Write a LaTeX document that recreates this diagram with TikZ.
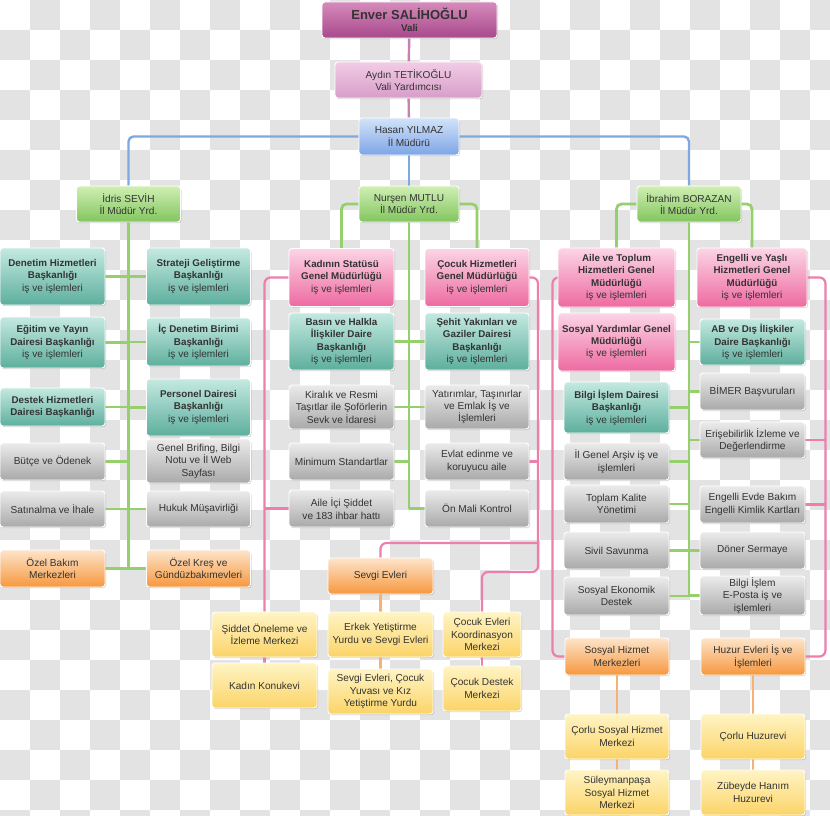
\documentclass[tikz,border=0pt]{standalone}
\usepackage{fontspec}
\setmainfont{Liberation Sans}
\usetikzlibrary{shadows}
\pgfdeclarelayer{checker}
\pgfdeclarelayer{wires}
\pgfsetlayers{checker,wires,main}
\definecolor{txtc}{HTML}{333333}
\definecolor{chk}{HTML}{E3E3E3}
\definecolor{valitop}{HTML}{D68BBB}
\definecolor{valibot}{HTML}{A8488C}
\definecolor{yrdtop}{HTML}{F2CCE6}
\definecolor{yrdbot}{HTML}{D79DC8}
\definecolor{bluetop}{HTML}{D2E3F9}
\definecolor{bluebot}{HTML}{7EA5E6}
\definecolor{greentop}{HTML}{D0EFB4}
\definecolor{greenbot}{HTML}{82C55E}
\definecolor{tealtop}{HTML}{C4E9E0}
\definecolor{tealbot}{HTML}{5DAF9D}
\definecolor{pinktop}{HTML}{FBD5E5}
\definecolor{pinkbot}{HTML}{EE6AA1}
\definecolor{graytop}{HTML}{EBEBEB}
\definecolor{graybot}{HTML}{A9A9A9}
\definecolor{orgtop}{HTML}{FDE4CA}
\definecolor{orgbot}{HTML}{F7983E}
\definecolor{yeltop}{HTML}{FFF4C4}
\definecolor{yelbot}{HTML}{FBD468}
\definecolor{lblue}{HTML}{7DA8E2}
\definecolor{lgreen}{HTML}{96D06E}
\definecolor{lpink}{HTML}{EC7FAC}
\definecolor{lorange}{HTML}{F5B274}
\definecolor{lpurple}{HTML}{C87FB2}
\newcommand{\bb}[1]{{\fontsize{9.8}{12.4}\selectfont\textbf{#1}}}% bold line in a box

\begin{document}
\begin{tikzpicture}[x=1pt, y=-1pt, line cap=round,
  box/.style={rounded corners=3pt, draw=white, line width=0.9pt, align=center,
    inner sep=1pt, text=txtc, font=\fontsize{10.1}{12.4}\selectfont,
    drop shadow={opacity=0.3, shadow xshift=1pt, shadow yshift=-1.2pt}},
  sz/.style 2 args={minimum width=#1pt, minimum height=#2pt},
  valibox/.style={box, top color=valitop, bottom color=valibot},
  yrdbox/.style={box, top color=yrdtop, bottom color=yrdbot},
  bluebox/.style={box, top color=bluetop, bottom color=bluebot},
  greenbox/.style={box, top color=greentop, bottom color=greenbot},
  tealbox/.style={box, top color=tealtop, bottom color=tealbot},
  pinkbox/.style={box, top color=pinktop, bottom color=pinkbot},
  graybox/.style={box, top color=graytop, bottom color=graybot},
  orgbox/.style={box, top color=orgtop, bottom color=orgbot},
  yelbox/.style={box, top color=yeltop, bottom color=yelbot},
  bline/.style={draw=lblue, line width=2.4pt, rounded corners=5pt},
  gline/.style={draw=lgreen, line width=2.8pt, rounded corners=5pt},
  pline/.style={draw=lpink, line width=2.2pt, rounded corners=6pt},
  oline/.style={draw=lorange, line width=2.6pt},
  vline/.style={draw=lpurple, line width=2.4pt}]
\useasboundingbox (0,0) rectangle (830,816);

% checker background
\begin{pgfonlayer}{checker}
\fill[white] (0,0) rectangle (830,816);
\begin{scope}
\clip (0,0) rectangle (830,816);
\foreach \i in {0,60,...,810}
  \foreach \j in {30,90,...,810}
    \fill[chk] (\i,\j) rectangle ++(30,30);
\foreach \i in {30,90,...,810}
  \foreach \j in {0,60,...,780}
    \fill[chk] (\i,\j) rectangle ++(30,30);
\end{scope}
\end{pgfonlayer}

% top
\node[valibox, sz={175}{36}] (vali) at (409.5,20) {\textbf{\fontsize{13}{15}\selectfont Enver SALİHOĞLU}\\\bb{Vali}};
\node[yrdbox, sz={147}{36}] (aydin) at (408.5,80) {Aydın TETİKOĞLU\\Vali Yardımcısı};
\node[bluebox, sz={100}{37}] (hasan) at (409,136.5) {Hasan YILMAZ\\İl Müdürü};
\node[greenbox, sz={104}{36}] (idris) at (128.5,204) {İdris SEVİH\\İl Müdür Yrd.};
\node[greenbox, sz={100}{36}] (nursen) at (409,204) {Nurşen MUTLU\\İl Müdür Yrd.};
\node[greenbox, sz={104}{36}] (ibrahim) at (689,204) {İbrahim BORAZAN\\İl Müdür Yrd.};

% left branch
\node[tealbox, sz={105}{57}] (denetim) at (52.5,276.5) {\bb{Denetim Hizmetleri}\\\bb{Başkanlığı}\\iş ve işlemleri};
\node[tealbox, sz={104}{57}] (strateji) at (198.5,276.5) {\bb{Strateji Geliştirme}\\\bb{Başkanlığı}\\iş ve işlemleri};
\node[tealbox, sz={105}{51}] (egitim) at (52.5,342.5) {\bb{Eğitim ve Yayın}\\\bb{Dairesi Başkanlığı}\\iş ve işlemleri};
\node[tealbox, sz={104}{48}] (icdenetim) at (198.5,342) {\bb{İç Denetim Birimi}\\\bb{Başkanlığı}\\iş ve işlemleri};
\node[tealbox, sz={105}{38}] (destek) at (52.5,407) {\bb{Destek Hizmetleri}\\\bb{Dairesi Başkanlığı}};
\node[tealbox, sz={104}{57}] (personel) at (198.5,407.5) {\bb{Personel Dairesi}\\\bb{Başkanlığı}\\iş ve işlemleri};
\node[graybox, sz={105}{37}] (butce) at (52.5,461.5) {Bütçe ve Ödenek};
\node[graybox, sz={104}{44}] (brifing) at (198.5,461) {Genel Brifing, Bilgi\\Notu ve İl Web\\Sayfası};
\node[graybox, sz={105}{36}] (satin) at (52.5,509) {Satınalma ve İhale};
\node[graybox, sz={104}{36}] (hukuk) at (198.5,509) {Hukuk Müşavirliği};
\node[orgbox, sz={105}{37}] (ozelbakim) at (52.5,568.5) {Özel Bakım\\Merkezleri};
\node[orgbox, sz={104}{37}] (ozelkres) at (198.5,568.5) {Özel Kreş ve\\Gündüzbakımevleri};

% middle branch
\node[pinkbox, sz={105}{58}] (kadin) at (341.5,277.5) {\bb{Kadının Statüsü}\\\bb{Genel Müdürlüğü}\\iş ve işlemleri};
\node[pinkbox, sz={104}{58}] (cocuk) at (477,277.5) {\bb{Çocuk Hizmetleri}\\\bb{Genel Müdürlüğü}\\iş ve işlemleri};
\node[tealbox, sz={105}{57}] (basin) at (341.5,341.5) {\bb{Basın ve Halkla}\\\bb{İlişkiler Daire}\\\bb{Başkanlığı}\\iş ve işlemleri};
\node[tealbox, sz={104}{57}] (sehit) at (477,341.5) {\bb{Şehit Yakınları ve}\\\bb{Gaziler Dairesi}\\\bb{Başkanlığı}\\iş ve işlemleri};
\node[graybox, sz={105}{44}] (kiralik) at (341.5,407) {Kiralık ve Resmi\\Taşıtlar ile Şoförlerin\\Sevk ve İdaresi};
\node[graybox, sz={104}{44}] (yatirim) at (477,407) {Yatırımlar, Taşınırlar\\ve Emlak İş ve\\İşlemleri};
\node[graybox, sz={105}{37}] (minimum) at (341.5,461.5) {Minimum Standartlar};
\node[graybox, sz={104}{37}] (evlat) at (477,461.5) {Evlat edinme ve\\koruyucu aile};
\node[graybox, sz={105}{37}] (ailesiddet) at (341.5,508.5) {Aile İçi Şiddet\\ve 183 ihbar hattı};
\node[graybox, sz={104}{37}] (onmali) at (477,508.5) {Ön Mali Kontrol};
\node[orgbox, sz={105}{36}] (sevgi) at (380.5,576) {Sevgi Evleri};
\node[yelbox, sz={105}{45}] (siddet) at (264.5,634.5) {Şiddet Öneleme ve\\İzleme Merkezi};
\node[yelbox, sz={105}{45}] (konuk) at (264.5,685.5) {Kadın Konukevi};
\node[yelbox, sz={105}{45}] (erkek) at (380.5,634.5) {Erkek Yetiştirme\\Yurdu ve Sevgi Evleri};
\node[yelbox, sz={105}{45}] (sevgiyuva) at (380.5,691.5) {Sevgi Evleri, Çocuk\\Yuvası ve Kız\\Yetiştirme Yurdu};
\node[yelbox, sz={78}{45}] (cevleri) at (482,634.5) {Çocuk Evleri\\Koordinasyon\\Merkezi};
\node[yelbox, sz={78}{45}] (cdestek) at (482,688.5) {Çocuk Destek\\Merkezi};

% right branch
\node[pinkbox, sz={117}{59}] (ailetop) at (616.5,277.5) {\bb{Aile ve Toplum}\\\bb{Hizmetleri Genel}\\\bb{Müdürlüğü}\\iş ve işlemleri};
\node[pinkbox, sz={110}{59}] (engelli) at (752,277.5) {\bb{Engelli ve Yaşlı}\\\bb{Hizmetleri Genel}\\\bb{Müdürlüğü}\\iş ve işlemleri};
\node[pinkbox, sz={117}{58}] (sosyard) at (616.5,342) {\bb{Sosyal Yardımlar Genel}\\\bb{Müdürlüğü}\\iş ve işlemleri};
\node[tealbox, sz={105}{46}] (ab) at (752.5,342) {\bb{AB ve Dış İlişkiler}\\\bb{Daire Başkanlığı}\\iş ve işlemleri};
\node[graybox, sz={105}{37}] (bimer) at (752.5,391.5) {BİMER Başvuruları};
\node[tealbox, sz={105}{51}] (bilgiis) at (616.5,407.5) {\bb{Bilgi İşlem Dairesi}\\\bb{Başkanlığı}\\iş ve işlemleri};
\node[graybox, sz={105}{36}] (erisim) at (752.5,440) {Erişebilirlik İzleme ve\\Değerlendirme};
\node[graybox, sz={105}{37}] (arsiv) at (616.5,461.5) {İl Genel Arşiv iş ve\\işlemleri};
\node[graybox, sz={105}{38}] (kalite) at (616.5,504) {Toplam Kalite\\Yönetimi};
\node[graybox, sz={105}{37}] (evde) at (752.5,504.5) {Engelli Evde Bakım\\Engelli Kimlik Kartları};
\node[graybox, sz={105}{37}] (sivil) at (616.5,550.5) {Sivil Savunma};
\node[graybox, sz={105}{37}] (doner) at (752.5,550.5) {Döner Sermaye};
\node[graybox, sz={105}{38}] (sosyalek) at (616.5,596) {Sosyal Ekonomik\\Destek};
\node[graybox, sz={105}{39}] (eposta) at (752.5,595.5) {Bilgi İşlem\\E-Posta iş ve\\işlemleri};
\node[orgbox, sz={104}{37}] (shm) at (617,656.5) {Sosyal Hizmet\\Merkezleri};
\node[orgbox, sz={104}{37}] (huzur) at (753,656.5) {Huzur Evleri İş ve\\İşlemleri};
\node[yelbox, sz={104}{45}] (corlushm) at (617,736.5) {Çorlu Sosyal Hizmet\\Merkezi};
\node[yelbox, sz={104}{45}] (suley) at (617,792.5) {Süleymanpaşa\\Sosyal Hizmet\\Merkezi};
\node[yelbox, sz={104}{45}] (corluhuz) at (753,736.5) {Çorlu Huzurevi};
\node[yelbox, sz={104}{45}] (zubeyde) at (753,792.5) {Zübeyde Hanım\\Huzurevi};

\coordinate (cbend) at (538,572);
\coordinate (sbend) at (538,543);

\begin{pgfonlayer}{wires}
% top chain
\draw[vline] (vali) -- (aydin);
\draw[vline] (aydin) -- (hasan);
\draw[bline] (hasan.west) -| (idris.north);
\draw[bline] (hasan.east) -| (ibrahim.north);
\draw[bline] (hasan) -- (nursen);
% green trunks
\draw[gline] (idris.south) -- (idris.south |- ozelbakim.east);
\foreach \b in {denetim,egitim,destek,butce,satin,ozelbakim}
  \draw[gline] (\b.east) -- (\b.east -| idris.south);
\foreach \b in {strateji,icdenetim,personel,hukuk,ozelkres}
  \draw[gline] (\b.west) -- (\b.west -| idris.south);
\draw[gline] (nursen.west) -| (kadin.north);
\draw[gline] (nursen.east) -| (cocuk.north);
\draw[gline] (nursen.south) -- (nursen.south |- onmali.west);
\foreach \b in {basin,kiralik,minimum}
  \draw[gline] (\b.east) -- (\b.east -| nursen.south);
\foreach \b in {sehit,yatirim,onmali}
  \draw[gline] (\b.west) -- (\b.west -| nursen.south);
\draw[gline] (ibrahim.west) -| (ailetop.north);
\draw[gline] (ibrahim.east) -| (engelli.north);
\draw[gline] (ibrahim.south) -- (ibrahim.south |- eposta.west);
\foreach \b in {bilgiis,arsiv,kalite,sivil,sosyalek}
  \draw[gline] (\b.east) -- (\b.east -| ibrahim.south);
\foreach \b in {ab,bimer,erisim,doner,eposta}
  \draw[gline] (\b.west) -- (\b.west -| ibrahim.south);
% pink links
\draw[pline] (kadin.west) -| (siddet.north);
\draw[pline] (siddet.south) -- (konuk.north);
\draw[pline] (ailesiddet.west) -- (ailesiddet.west -| siddet.north);
\draw[pline] (cocuk.east) -| (cbend) -| (cevleri.north);
\draw[pline] (cevleri.south) -- (cdestek.north);
\draw[pline] (evlat.east) -- (evlat.east -| cbend);
\draw[pline] (sbend) -| (sevgi.north);
\draw[pline] (ailetop.west) -- ++(-5,0) |- (shm.west);
\draw[pline] (engelli.east) -- ++(18,0) |- (huzur.east);
\draw[pline] (erisim.east) -- ++(20,0);
\draw[pline] (evde.east) -- ++(20,0);
% orange links
\draw[oline] (sevgi) -- (erkek);
\draw[oline] (erkek) -- (sevgiyuva);
\draw[oline] (shm) -- (corlushm);
\draw[oline] (corlushm) -- (suley);
\draw[oline] (huzur) -- (corluhuz);
\draw[oline] (corluhuz) -- (zubeyde);
\end{pgfonlayer}
\end{tikzpicture}
\end{document}
